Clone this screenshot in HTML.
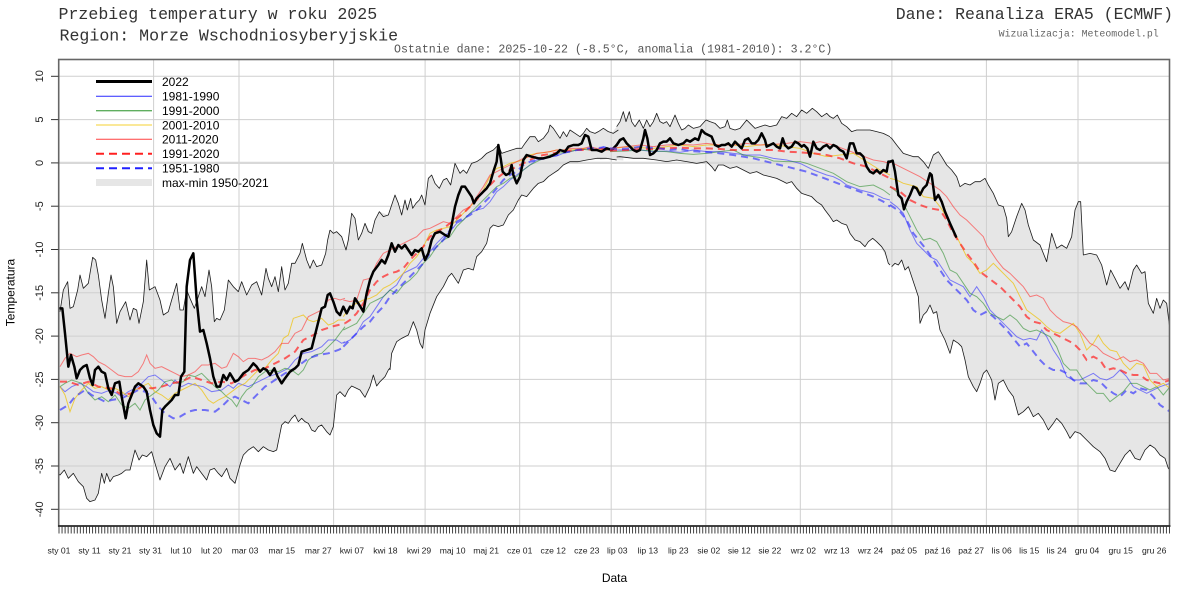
<!DOCTYPE html>
<html><head><meta charset="utf-8"><style>
html,body{margin:0;padding:0;background:#fff;width:1200px;height:600px;overflow:hidden}
svg{display:block}
.env{fill:none;stroke:#1a1a1a;stroke-width:2.4;stroke-linejoin:round}
.fl{fill:#e6e6e6;stroke:none}
.b{fill:none;stroke:#3030ff;stroke-opacity:.6;stroke-width:3}
.g{fill:none;stroke:#2f8f2f;stroke-opacity:.6;stroke-width:3}
.y{fill:none;stroke:#f0c000;stroke-opacity:.7;stroke-width:3}
.r{fill:none;stroke:#ff3030;stroke-opacity:.6;stroke-width:3}
.rd{fill:none;stroke:#ff2020;stroke-opacity:.7;stroke-width:6;stroke-dasharray:21 15}
.bd{fill:none;stroke:#2020ff;stroke-opacity:.6;stroke-width:6;stroke-dasharray:21 15}
.k{fill:none;stroke:#000;stroke-width:7.5;stroke-linejoin:round;stroke-linecap:round}
.mono{font-family:"Liberation Mono","DejaVu Sans Mono",monospace}
.sans{font-family:"Liberation Sans","DejaVu Sans",sans-serif}
</style></head><body>
<svg width="1200" height="600" viewBox="0 0 1200 600" xmlns="http://www.w3.org/2000/svg">
<defs><clipPath id="pc"><rect x="59" y="59.5" width="1110.5" height="466.5"/></clipPath></defs>

<!-- titles -->
<text class="mono" x="58.5" y="19" font-size="16.6" fill="#333">Przebieg temperatury w roku 2025</text>
<text class="mono" x="59.5" y="40.3" font-size="16.6" fill="#333">Region: Morze Wschodniosyberyjskie</text>
<text class="mono" x="1173" y="19" font-size="16.5" fill="#333" text-anchor="end">Dane: Reanaliza ERA5 (ECMWF)</text>
<text class="mono" x="1158.7" y="36.5" font-size="9.9" fill="#666" text-anchor="end">Wizualizacja: Meteomodel.pl</text>
<text class="mono" x="394" y="52.5" font-size="11.6" fill="#555">Ostatnie dane: 2025-10-22 (-8.5°C, anomalia (1981-2010): 3.2°C)</text>

<g clip-path="url(#pc)">
<!-- envelope fill -->
<g transform="translate(55,240) scale(0.333333)">
<polygon class="fl" points="0,215 15,215 25,150 38,125 45,205 55,200 68,150 75,105 85,145 100,130 113,52 122,60 130,105 140,180 150,235 160,160 168,105 175,140 185,250 195,215 212,185 225,240 235,205 245,210 252,250 265,185 275,60 283,150 300,140 315,180 325,225 340,215 350,180 365,130 375,210 385,210 395,150 405,175 418,205 440,140 450,170 462,90 470,140 478,245 485,235 495,240 508,210 520,120 535,140 550,155 560,125 575,165 590,135 605,125 620,165 633,85 640,115 650,140 660,110 670,155 680,80 690,150 700,130 710,70 720,70 735,40 742,10 755,60 765,85 775,60 785,80 800,75 812,40 818,0 825,-30 835,-20 855,-15 873,30 890,-80 910,0 930,-50 950,-20 973,-85 1000,-75 1005,-80 1005,384 1000,390 990,410 975,425 965,438 955,405 945,440 930,472 915,450 905,445 890,438 880,450 870,470 855,455 845,465 835,560 825,585 815,575 800,555 790,560 780,575 770,570 760,550 750,545 740,535 730,545 720,525 710,535 700,550 690,545 680,555 665,630 655,635 640,630 625,620 610,635 595,620 580,630 565,645 555,675 540,730 525,715 515,685 500,710 490,700 478,685 465,690 455,720 440,700 425,680 415,700 400,650 385,700 375,670 360,690 345,655 330,680 315,720 300,670 290,635 275,650 262,645 252,660 240,630 225,690 212,690 200,700 190,705 175,710 165,725 155,700 148,730 140,700 130,760 120,780 105,785 95,775 85,740 70,725 55,700 40,715 28,690 15,705 5,695 0,695"/>
</g>
<g transform="translate(330,100) scale(0.333333)">
<polygon class="fl" points="0,390 10,400 20,395 35,410 48,450 55,420 65,340 75,355 85,420 95,400 105,370 115,395 125,400 135,360 148,335 160,350 175,345 195,285 205,310 215,345 225,300 232,330 242,295 248,325 258,310 268,300 275,285 285,315 295,235 305,225 315,250 328,265 340,240 350,235 362,255 375,190 390,220 400,210 410,220 425,190 440,185 455,175 470,160 490,150 505,135 515,160 530,155 545,150 560,145 575,145 585,130 600,110 615,110 625,125 640,115 655,95 660,75 670,85 680,100 690,115 700,95 710,110 720,90 735,100 750,110 760,100 770,85 780,95 795,100 805,95 820,85 835,95 850,100 865,90 880,92 880,182 860,180 830,175 800,175 770,180 745,185 720,185 700,195 685,210 670,220 655,230 640,245 625,250 610,265 590,290 575,285 565,300 550,330 535,345 520,375 505,380 490,375 480,385 470,430 455,455 440,470 430,510 415,505 400,510 385,550 365,520 355,530 340,560 320,590 300,640 285,690 278,745 270,730 260,690 250,665 235,705 215,715 200,725 185,760 180,810 0,810"/>
</g>
<g transform="translate(600,95) scale(0.333333)">
<polygon class="fl" points="0,105 15,100 35,115 50,95 60,80 70,50 78,80 88,50 95,80 105,95 118,75 130,100 140,75 150,95 160,80 170,55 180,80 190,85 200,80 210,95 225,60 235,85 245,105 255,100 265,90 280,100 300,95 318,75 330,80 345,85 360,100 375,95 382,75 390,100 405,105 420,100 440,75 450,85 465,100 480,95 495,90 510,95 530,90 545,65 560,70 575,55 590,65 605,45 620,55 637,40 650,50 665,65 680,55 690,65 700,70 712,60 725,85 740,95 755,110 770,105 790,105 810,105 830,110 850,115 870,125 870,510 865,505 855,470 845,455 830,440 818,430 805,440 795,455 780,440 765,435 750,415 740,390 725,385 710,375 700,380 690,365 675,345 665,330 650,320 635,305 620,300 605,295 590,280 575,260 560,265 550,260 530,250 510,245 490,240 470,230 450,235 430,225 410,215 390,220 370,210 355,210 345,228 335,215 320,200 290,205 260,200 230,195 200,200 170,195 130,190 100,190 60,185 30,190 0,195"/>
</g>
<g transform="translate(870,130) scale(0.333333)">
<polygon class="fl" points="0,8 20,15 40,10 65,25 80,45 100,70 115,75 130,80 145,80 160,95 175,115 190,75 205,65 215,80 230,105 245,120 260,140 270,170 285,160 300,165 315,155 330,155 345,145 355,165 370,190 385,225 400,230 410,265 415,320 425,305 440,260 455,220 465,240 475,285 490,330 510,345 530,395 545,310 560,355 575,345 590,355 605,320 615,240 625,215 632,215 640,375 660,370 680,375 695,405 710,465 722,420 735,445 750,475 765,455 775,480 790,420 800,405 815,430 825,425 835,520 850,550 860,505 870,535 880,510 890,520 900,600 930,600 930,1020 900,1020 895,1015 885,985 870,975 855,955 840,945 825,960 810,990 795,985 780,960 765,975 750,1000 735,1025 720,1020 705,985 690,965 670,950 650,930 630,910 615,905 600,925 590,905 575,880 560,865 550,880 535,900 520,870 505,850 490,860 475,830 460,845 445,855 430,800 415,780 400,750 385,760 375,810 365,750 350,720 340,730 330,760 320,785 310,770 295,740 285,690 275,650 265,640 250,630 240,670 225,630 210,600 200,545 190,550 180,525 170,545 160,555 150,580 145,500 135,470 125,440 115,410 105,420 95,390 85,405 75,400 65,410 55,395 45,375 25,335 0,325"/>
</g>

<!-- grid -->
<g stroke="#cfcfcf" stroke-width="1">
<line x1="153.6" y1="59" x2="153.6" y2="526"/>
<line x1="239" y1="59" x2="239" y2="526"/>
<line x1="333.6" y1="59" x2="333.6" y2="526"/>
<line x1="425.1" y1="59" x2="425.1" y2="526"/>
<line x1="519.7" y1="59" x2="519.7" y2="526"/>
<line x1="611.2" y1="59" x2="611.2" y2="526"/>
<line x1="705.8" y1="59" x2="705.8" y2="526"/>
<line x1="800.3" y1="59" x2="800.3" y2="526"/>
<line x1="891.9" y1="59" x2="891.9" y2="526"/>
<line x1="986.4" y1="59" x2="986.4" y2="526"/>
<line x1="1078" y1="59" x2="1078" y2="526"/>
<line x1="59" y1="76.3" x2="1170" y2="76.3"/>
<line x1="59" y1="119.6" x2="1170" y2="119.6"/>
<line x1="59" y1="206.2" x2="1170" y2="206.2"/>
<line x1="59" y1="249.5" x2="1170" y2="249.5"/>
<line x1="59" y1="292.8" x2="1170" y2="292.8"/>
<line x1="59" y1="336.1" x2="1170" y2="336.1"/>
<line x1="59" y1="379.4" x2="1170" y2="379.4"/>
<line x1="59" y1="422.7" x2="1170" y2="422.7"/>
<line x1="59" y1="466" x2="1170" y2="466"/>
<line x1="59" y1="509.3" x2="1170" y2="509.3"/>
</g>
<line x1="59" y1="162.9" x2="1170" y2="162.9" stroke="#d8d8d8" stroke-width="2.2"/>

<!-- zoom5 segment -->
<g transform="translate(55,240) scale(0.333333)">
<polyline class="env" points="15,215 25,150 38,125 45,205 55,200 68,150 75,105 85,145 100,130 113,52 122,60 130,105 140,180 150,235 160,160 168,105 175,140 185,250 195,215 212,185 225,240 235,205 245,210 252,250 265,185 275,60 283,150 300,140 315,180 325,225 340,215 350,180 365,130 375,210 385,210 395,150 405,175 418,205 440,140 450,170 462,90 470,140 478,245 485,235 495,240 508,210 520,120 535,140 550,155 560,125 575,165 590,135 605,125 620,165 633,85 640,115 650,140 660,110 670,155 680,80 690,150 700,130 710,70 720,70 735,40 742,10 755,60 765,85 775,60 785,80 800,75 812,40 818,0 825,-30"/>
<polyline class="env" points="5,695 15,705 28,690 40,715 55,700 70,725 85,740 95,775 105,785 120,780 130,760 140,700 148,730 155,700 165,725 175,710 190,705 200,700 212,690 225,690 240,630 252,660 262,645 275,650 290,635 300,670 315,720 330,680 345,655 360,690 375,670 385,700 400,650 415,700 425,680 440,700 455,720 465,690 478,685 490,700 500,710 515,685 525,715 540,730 555,675 565,645 580,630 595,620 610,635 625,620 640,630 655,635 665,630 680,555 690,545 700,550 710,535 720,525 730,545 740,535 750,545 760,550 770,570 780,575 790,560 800,555 815,575 825,585 835,560 845,465 855,455 870,470 880,450 890,438 905,445 915,450 930,472 945,440 955,405 965,438 975,425 990,410 1000,390 1005,384"/>
<polyline class="b" points="15,440 30,455 50,440 75,430 95,440 115,455 140,460 165,450 185,460 200,470 220,455 250,440 280,410 300,405 320,420 345,440 360,420 380,440 400,430 420,435 445,440 470,455 500,450 520,435 535,445 550,430 580,440 610,425 640,410 670,400 700,385 720,360 745,340 770,335 800,320 820,300 845,300 860,310 870,305"/>
<polyline class="g" points="15,440 30,430 50,420 80,430 100,460 120,480 140,470 160,485 180,465 200,495 220,505 240,490 255,510 270,480 290,465 310,450 330,425 350,420 365,430 385,425 400,405 420,410 440,400 460,420 480,440 500,455 515,470 530,480 545,500 560,470 575,450 590,440 610,410 630,395 650,390 670,395 690,385 710,390 730,405 745,390 760,360 780,345 800,340 820,320 840,300 855,280 870,260"/>
<polyline class="y" points="15,440 30,465 45,515 60,475 80,450 100,430 120,445 140,440 160,450 180,445 200,455 220,470 240,450 260,440 280,430 300,455 320,465 340,480 360,460 380,450 400,440 420,430 440,450 460,480 475,490 490,480 510,470 530,455 550,440 570,430 590,410 610,390 630,385 650,360 670,340 685,295 700,285 715,235 730,230 745,225 760,240 775,245 790,240 800,235 820,255 835,250 850,240 870,240"/>
<polyline class="r" points="15,380 30,355 45,340 65,350 80,345 100,340 115,350 130,365 150,375 170,390 190,405 210,410 230,410 250,395 265,370 275,345 285,370 300,385 320,380 340,390 360,400 380,410 400,405 420,395 440,375 460,375 480,370 500,385 515,380 535,340 550,350 565,365 580,355 600,355 620,360 640,350 660,335 680,310 700,310 720,280 740,270 760,230 780,220 800,210 820,180 840,175 855,180 870,175"/>
<polyline class="rd" points="15,425 40,425 70,435 100,425 130,440 170,445 200,465 230,460 260,440 290,445 320,440 350,430 380,425 410,410 440,420 470,430 500,425 530,430 570,405 600,390 630,385 660,370 690,355 720,335 745,300 775,285 800,270 830,260 850,255 870,250"/>
<polyline class="bd" points="15,510 40,495 60,470 90,450 110,465 130,475 150,485 170,480 200,475 220,465 250,450 270,455 290,470 310,500 330,520 355,535 375,530 400,515 420,510 450,510 480,515 500,500 520,480 540,470 560,480 580,490 600,470 630,440 660,420 690,400 720,385 760,355 790,345 820,340 850,330 870,320"/>
<polyline class="k" points="15,205 22,205 30,280 40,380 48,345 58,380 65,415 75,390 85,380 95,375 105,415 113,435 120,390 130,380 140,395 150,400 160,445 170,465 180,430 193,425 200,470 212,535 220,490 230,465 240,440 250,430 265,440 275,455 285,510 295,555 305,580 315,590 322,510 330,500 340,490 350,480 360,465 370,465 378,410 388,395 395,140 405,60 415,40 425,180 435,275 445,270 455,310 465,355 475,410 485,440 495,440 505,405 515,420 525,400 540,425 550,420 565,400 580,390 595,370 605,380 615,395 625,385 635,390 645,405 658,385 668,410 680,430 690,415 705,395 720,385 730,375 740,335 755,330 770,325 780,285 790,245 800,205 810,200 818,165 825,160 835,185 845,215 855,225"/>
</g>

<!-- zoom6 segment -->
<g transform="translate(330,100) scale(0.333333)">
<polyline class="env" points="0,390 10,400 20,395 35,410 48,450 55,420 65,340 75,355 85,420 95,400 105,370 115,395 125,400 135,360 148,335 160,350 175,345 195,285 205,310 215,345 225,300 232,330 242,295 248,325 258,310 268,300 275,285 285,315 295,235 305,225 315,250 328,265 340,240 350,235 362,255 375,190 390,220 400,210 410,220 425,190 440,185 455,175 470,160 490,150 505,135 515,160 530,155 545,150 560,145 575,145 585,130 600,110 615,110 625,125 640,115 655,95 660,75 670,85 680,100 690,115 700,95 710,110 720,90 735,100 750,110 760,100 770,85 780,95 795,100 805,95 820,85 835,95 850,100 865,90"/>
<polyline class="env" points="180,810 185,760 200,725 215,715 235,705 250,665 260,690 270,730 278,745 285,690 300,640 320,590 340,560 355,530 365,520 385,550 400,510 415,505 430,510 440,470 455,455 470,430 480,385 490,375 505,380 520,375 535,345 550,330 565,300 575,285 590,290 610,265 625,250 640,245 655,230 670,220 685,210 700,195 720,185 745,185 770,180 800,175 830,175 860,180"/>
<polyline class="b" points="40,730 60,720 80,700 100,665 120,650 140,620 160,590 180,570 200,555 220,520 240,510 260,500 280,475 300,455 320,430 340,410 360,395 380,370 400,360 420,340 440,330 460,325 480,305 500,275 520,260 540,240 560,225 580,210 600,195 620,180 640,178 660,170 680,168 700,160 720,155 740,150 760,148 780,145 800,150 820,140 840,145"/>
<polyline class="g" points="40,690 60,680 80,670 100,640 120,610 140,600 160,590 180,570 200,580 220,555 240,540 260,520 280,490 300,470 320,440 340,420 360,410 380,380 400,360 420,340 440,320 460,300 480,280 500,260 520,250 540,235 560,230 580,210 600,195 620,185 640,175 660,165 680,160 700,158 720,155 740,150 760,148 780,150 800,152 820,150 840,150"/>
<polyline class="y" points="40,650 60,620 80,610 100,600 120,595 140,585 160,565 180,555 200,540 220,520 240,490 260,470 280,440 300,400 320,390 340,385 360,380 380,360 400,340 420,320 440,300 460,270 480,230 500,205 520,200 540,190 560,185 580,180 600,165 620,160 640,158 660,155 680,150 700,150 720,150 740,148 760,145 780,148 800,150 820,145 840,150"/>
<polyline class="r" points="40,600 60,605 80,600 100,540 120,535 140,490 160,460 180,450 200,440 220,430 240,420 260,410 280,390 300,385 320,375 340,365 360,370 380,350 400,330 420,320 440,290 460,260 480,225 500,215 520,205 540,195 560,185 580,175 600,170 620,160 640,158 660,155 680,150 700,150 720,145 740,145 760,145 780,140 800,145 820,145 840,150"/>
<polyline class="rd" points="45,670 60,660 80,640 100,610 120,570 140,545 160,530 180,520 200,515 220,505 240,480 260,460 280,440 300,410 320,395 340,385 360,370 380,355 400,340 420,320 440,300 460,275 480,255 500,235 520,220 540,210 560,200 580,190 600,180 620,170 640,165 660,162 680,158 700,155 720,152 740,150 760,150 780,148 800,150 820,148 840,150"/>
<polyline class="bd" points="40,740 60,720 80,700 100,680 120,665 140,640 160,620 180,590 200,570 230,540 260,510 280,490 300,460 320,440 340,420 360,390 380,365 400,355 420,345 440,330 460,310 480,290 500,265 520,240 540,225 560,215 580,195 600,185 620,180 640,175 660,170 680,165 700,158 720,155 740,150 760,148 780,145 800,145 820,142 840,145"/>
<polyline class="k" points="30,645 40,620 50,640 60,620 68,625 75,595 88,615 100,635 110,580 120,540 130,515 145,495 155,480 165,490 175,465 185,430 195,455 205,435 215,445 225,435 235,450 245,465 255,450 265,455 275,445 285,480 295,460 305,420 315,400 330,395 345,405 355,410 365,375 375,320 385,285 395,260 405,260 415,275 425,290 432,310 440,295 450,285 460,275 470,265 480,250 490,215 500,185 505,135 512,175 518,215 528,225 538,220 545,195 550,225 560,250 570,230 580,180 590,165 605,170 625,175 640,175 660,170 680,160 690,150 705,155 715,140 730,135 745,135 755,130 765,105 775,110 785,150 800,150 815,155 830,145 845,150 860,135"/>
</g>

<!-- zoom7 segment -->
<g transform="translate(600,95) scale(0.333333)">
<polyline class="env" points="50,95 60,80 70,50 78,80 88,50 95,80 105,95 118,75 130,100 140,75 150,95 160,80 170,55 180,80 190,85 200,80 210,95 225,60 235,85 245,105 255,100 265,90 280,100 300,95 318,75 330,80 345,85 360,100 375,95 382,75 390,100 405,105 420,100 440,75 450,85 465,100 480,95 495,90 510,95 530,90 545,65 560,70 575,55 590,65 605,45 620,55 637,40 650,50 665,65 680,55 690,65 700,70 712,60 725,85 740,95 755,110 770,105 790,105 810,105 830,110 850,115 870,125"/>
<polyline class="env" points="50,186 60,185 100,190 130,190 170,195 200,200 230,195 260,200 290,205 320,200 335,215 345,228 355,210 370,210 390,220 410,215 430,225 450,235 470,230 490,240 510,245 530,250 550,260 560,265 575,260 590,280 605,295 620,300 635,305 650,320 665,330 675,345 690,365 700,380 710,375 725,385 740,390 750,415 765,435 780,440 795,455 805,440 818,430 830,440 845,455 855,470 865,505 870,510"/>
<polyline class="b" points="30,165 80,165 120,165 160,170 200,168 240,172 280,165 320,170 360,170 400,175 440,180 480,180 520,190 560,195 600,205 640,225 680,240 700,245 720,255 740,270 780,285 820,295 850,310 870,315"/>
<polyline class="g" points="30,170 80,168 120,165 160,168 200,170 240,175 280,178 320,175 360,170 400,165 430,180 460,185 500,190 520,198 560,200 600,200 620,205 660,220 700,235 740,260 780,275 820,270 850,285 870,300"/>
<polyline class="y" points="30,162 80,155 120,158 160,160 200,155 240,150 280,155 320,150 360,150 400,150 440,155 480,150 520,148 560,155 600,160 640,175 680,185 720,180 760,175 800,200 840,225 870,240"/>
<polyline class="r" points="30,160 80,155 120,150 160,155 200,150 240,148 280,150 320,145 360,150 400,150 440,145 480,150 520,148 560,145 600,140 640,145 660,140 700,150 740,165 780,180 820,195 850,200 870,205"/>
<polyline class="rd" points="30,167 80,165 120,162 160,162 200,160 240,158 280,160 320,160 360,162 400,165 440,165 480,165 520,165 560,170 600,172 640,175 680,180 720,190 760,205 800,215 840,235 870,250"/>
<polyline class="bd" points="30,160 60,162 90,160 120,155 150,158 180,160 210,165 240,162 270,168 300,170 330,172 360,175 400,180 430,185 460,190 500,200 540,210 580,220 620,230 660,245 700,260 740,275 780,290 820,305 850,320 870,335"/>
<polyline class="k" points="50,150 60,135 70,130 80,145 90,155 100,165 110,170 120,165 130,130 135,105 142,130 150,180 160,175 170,165 180,145 190,140 200,140 210,130 220,145 235,150 250,145 260,135 270,140 285,130 295,135 305,105 315,115 325,120 335,125 345,150 355,155 365,150 375,150 385,145 395,155 405,140 415,150 425,160 435,135 445,130 455,145 465,145 475,135 485,115 495,135 500,155 510,150 520,145 530,155 540,160 548,130 555,150 565,160 575,155 585,140 595,145 605,155 612,150 622,160 630,185 640,140 650,160 660,165 670,155 680,150 690,160 700,150 710,155 720,165 730,170 740,190 750,145 760,145 770,175 780,175 790,185 800,215 810,230 820,235 830,225 840,235 850,225 860,230 865,200 870,200"/>
</g>

<!-- zoom8 segment -->
<g transform="translate(870,130) scale(0.333333)">
<polyline class="env" points="60,22 65,25 80,45 100,70 115,75 130,80 145,80 160,95 175,115 190,75 205,65 215,80 230,105 245,120 260,140 270,170 285,160 300,165 315,155 330,155 345,145 355,165 370,190 385,225 400,230 410,265 415,320 425,305 440,260 455,220 465,240 475,285 490,330 510,345 530,395 545,310 560,355 575,345 590,355 605,320 615,240 625,215 632,215 640,375 660,370 680,375 695,405 710,465 722,420 735,445 750,475 765,455 775,480 790,420 800,405 815,430 825,425 835,520 850,550 860,505 870,535 880,510 890,520 900,600"/>
<polyline class="env" points="65,410 75,400 85,405 95,390 105,420 115,410 125,440 135,470 145,500 150,580 160,555 170,545 180,525 190,550 200,545 210,600 225,630 240,670 250,630 265,640 275,650 285,690 295,740 310,770 320,785 330,760 340,730 350,720 365,750 375,810 385,760 400,750 415,780 430,800 445,855 460,845 475,830 490,860 505,850 520,870 535,900 550,880 560,865 575,880 590,905 600,925 615,905 630,910 650,930 670,950 690,965 705,985 720,1020 735,1025 750,1000 765,975 780,960 795,985 810,990 825,960 840,945 855,955 870,975 885,985 895,1015 900,1020"/>
<polyline class="b" points="60,215 80,230 100,250 120,300 140,340 160,360 180,380 200,390 220,420 240,450 260,460 280,470 300,500 320,470 340,500 360,540 380,560 400,580 420,600 440,620 460,630 480,625 500,630 515,600 530,620 550,660 570,690 590,740 610,750 630,750 650,740 670,730 690,745 710,750 730,740 750,720 770,740 790,770 810,780 830,790 850,780 870,770 900,760"/>
<polyline class="g" points="60,170 80,185 100,220 120,260 140,300 160,330 180,325 200,335 220,370 240,420 260,430 280,460 300,490 320,500 340,520 360,550 380,560 400,570 420,555 440,570 460,595 480,605 500,600 520,610 540,620 560,650 580,700 600,720 620,720 640,750 660,770 680,790 700,790 720,815 740,800 760,785 780,760 800,760 820,770 840,780 860,770 880,795 900,770"/>
<polyline class="y" points="60,145 80,150 100,160 120,165 140,170 160,200 190,205 210,230 230,260 250,300 270,340 290,380 310,400 330,430 350,420 370,400 390,420 410,440 430,460 450,500 470,540 490,555 510,570 530,590 550,605 570,610 590,595 610,580 630,610 650,660 670,640 685,615 700,640 720,660 740,665 760,700 780,720 800,700 820,705 840,750 860,770 880,760 900,775"/>
<polyline class="r" points="60,95 90,110 120,125 150,140 180,160 210,180 230,200 250,230 270,255 290,270 310,290 330,310 340,320 350,345 360,360 380,390 400,415 420,430 440,450 460,470 480,500 500,495 520,505 540,540 560,560 580,575 600,580 620,590 640,615 660,640 680,650 700,670 720,680 740,690 760,680 780,695 800,690 820,700 840,730 860,730 880,750 900,745"/>
<polyline class="rd" points="60,170 90,185 120,210 150,225 180,235 210,240 230,270 250,310 270,340 290,370 310,395 330,425 350,440 370,455 390,470 410,490 430,510 450,530 470,560 490,575 510,580 530,600 550,610 570,620 590,630 610,640 630,660 650,690 670,680 690,690 710,720 730,715 750,720 770,730 790,735 810,735 830,750 850,755 870,760 900,750"/>
<polyline class="bd" points="60,225 90,245 110,270 130,310 150,335 170,360 190,390 210,420 230,450 250,470 270,490 290,510 310,540 330,555 350,545 370,560 390,580 410,600 430,625 450,650 470,640 490,665 510,690 530,710 550,720 570,720 590,730 610,750 630,760 650,760 670,750 690,755 710,775 730,790 750,800 770,780 790,790 810,775 830,780 850,800 870,825 900,845"/>
<polyline class="k" points="60,95 68,92 75,125 85,195 95,205 102,238 110,215 120,195 130,170 140,175 150,195 160,175 170,165 180,130 185,135 195,210 205,195 215,215 225,245 240,280 258,320"/>
</g>
</g>

<!-- legend -->
<g>
<line x1="96" y1="81.5" x2="152" y2="81.5" stroke="#000" stroke-width="3"/>
<line x1="96" y1="96.3" x2="152" y2="96.3" stroke="#2a2aff" stroke-width="1"/>
<line x1="96" y1="110.7" x2="152" y2="110.7" stroke="#5fae5f" stroke-width="1.3"/>
<line x1="96" y1="125" x2="152" y2="125" stroke="#f5d030" stroke-width="1"/>
<line x1="96" y1="139.3" x2="152" y2="139.3" stroke="#ff4040" stroke-width="1"/>
<line x1="96" y1="153.7" x2="152" y2="153.7" stroke="#ff2020" stroke-width="2" stroke-dasharray="8 5"/>
<line x1="96" y1="168.3" x2="152" y2="168.3" stroke="#2020ff" stroke-width="2" stroke-dasharray="8 5"/>
<line x1="96" y1="182.5" x2="152" y2="182.5" stroke="#e6e6e6" stroke-width="7"/>
<g class="sans" font-size="12" fill="#000">
<text x="162" y="86">2022</text>
<text x="162" y="100.6">1981-1990</text>
<text x="162" y="115">1991-2000</text>
<text x="162" y="129.3">2001-2010</text>
<text x="162" y="143.6">2011-2020</text>
<text x="162" y="158">1991-2020</text>
<text x="162" y="172.6">1951-1980</text>
<text x="162" y="186.8">max-min 1950-2021</text>
</g>
</g>

<!-- frame -->
<rect x="58.7" y="59.5" width="1110.8" height="466.5" fill="none" stroke="#666" stroke-width="1.6"/>
<line x1="58" y1="526" x2="1170.5" y2="526" stroke="#222" stroke-width="1.6"/>

<!-- x minor ticks comb -->
<line x1="58.5" y1="530" x2="1170.5" y2="530" stroke="#444" stroke-width="7" stroke-dasharray="1 2.0508"/>

<!-- y ticks -->
<g stroke="#333" stroke-width="1">
<line x1="51" y1="76.3" x2="58.5" y2="76.3"/>
<line x1="51" y1="119.6" x2="58.5" y2="119.6"/>
<line x1="51" y1="162.9" x2="58.5" y2="162.9"/>
<line x1="51" y1="206.2" x2="58.5" y2="206.2"/>
<line x1="51" y1="249.5" x2="58.5" y2="249.5"/>
<line x1="51" y1="292.8" x2="58.5" y2="292.8"/>
<line x1="51" y1="336.1" x2="58.5" y2="336.1"/>
<line x1="51" y1="379.4" x2="58.5" y2="379.4"/>
<line x1="51" y1="422.7" x2="58.5" y2="422.7"/>
<line x1="51" y1="466" x2="58.5" y2="466"/>
<line x1="51" y1="509.3" x2="58.5" y2="509.3"/>
</g>
<g class="sans" font-size="11" fill="#222" text-anchor="middle">
<text transform="translate(43,76.3) rotate(-90)">10</text>
<text transform="translate(43,119.6) rotate(-90)">5</text>
<text transform="translate(43,162.9) rotate(-90)">0</text>
<text transform="translate(43,206.2) rotate(-90)">-5</text>
<text transform="translate(43,249.5) rotate(-90)">-10</text>
<text transform="translate(43,292.8) rotate(-90)">-15</text>
<text transform="translate(43,336.1) rotate(-90)">-20</text>
<text transform="translate(43,379.4) rotate(-90)">-25</text>
<text transform="translate(43,422.7) rotate(-90)">-30</text>
<text transform="translate(43,466) rotate(-90)">-35</text>
<text transform="translate(43,509.3) rotate(-90)">-40</text>
</g>
<text class="sans" transform="translate(14.5,292.5) rotate(-90)" font-size="12" fill="#000" text-anchor="middle">Temperatura</text>

<!-- x labels -->
<g class="sans" font-size="8.6" fill="#222" text-anchor="middle">
<text x="59" y="553.5">sty 01</text>
<text x="89.5" y="553.5">sty 11</text>
<text x="120" y="553.5">sty 21</text>
<text x="150.5" y="553.5">sty 31</text>
<text x="181" y="553.5">lut 10</text>
<text x="211.5" y="553.5">lut 20</text>
<text x="245.1" y="553.5">mar 03</text>
<text x="281.7" y="553.5">mar 15</text>
<text x="318.3" y="553.5">mar 27</text>
<text x="351.9" y="553.5">kwi 07</text>
<text x="385.4" y="553.5">kwi 18</text>
<text x="419" y="553.5">kwi 29</text>
<text x="452.6" y="553.5">maj 10</text>
<text x="486.1" y="553.5">maj 21</text>
<text x="519.7" y="553.5">cze 01</text>
<text x="553.2" y="553.5">cze 12</text>
<text x="586.8" y="553.5">cze 23</text>
<text x="617.3" y="553.5">lip 03</text>
<text x="647.8" y="553.5">lip 13</text>
<text x="678.3" y="553.5">lip 23</text>
<text x="708.8" y="553.5">sie 02</text>
<text x="739.3" y="553.5">sie 12</text>
<text x="769.8" y="553.5">sie 22</text>
<text x="803.4" y="553.5">wrz 02</text>
<text x="836.9" y="553.5">wrz 13</text>
<text x="870.5" y="553.5">wrz 24</text>
<text x="904.1" y="553.5">paź 05</text>
<text x="937.6" y="553.5">paź 16</text>
<text x="971.2" y="553.5">paź 27</text>
<text x="1001.7" y="553.5">lis 06</text>
<text x="1029.2" y="553.5">lis 15</text>
<text x="1056.6" y="553.5">lis 24</text>
<text x="1087.1" y="553.5">gru 04</text>
<text x="1120.7" y="553.5">gru 15</text>
<text x="1154.2" y="553.5">gru 26</text>
</g>
<text class="sans" x="614.5" y="582" font-size="12" fill="#000" text-anchor="middle">Data</text>
</svg>
</body></html>
